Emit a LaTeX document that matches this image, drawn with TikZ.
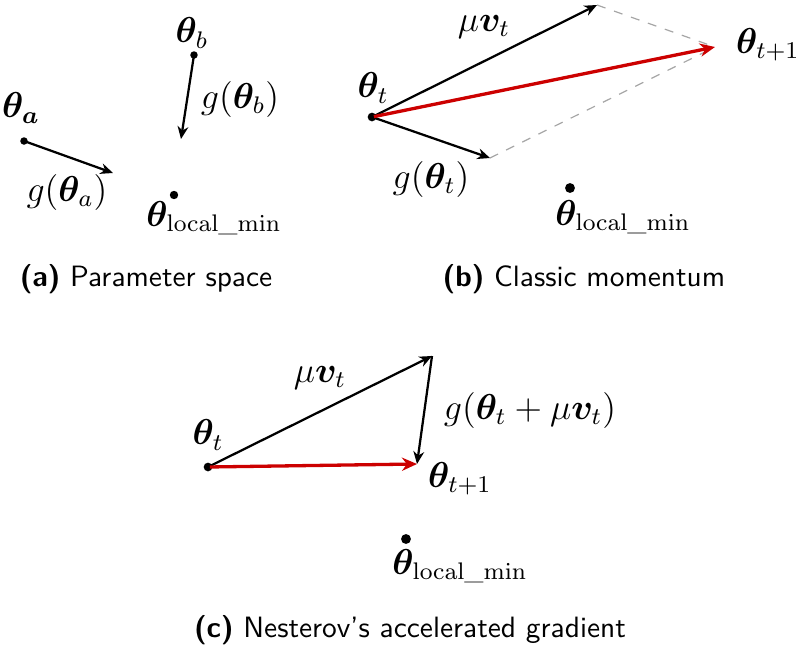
\documentclass[tikz,border=0pt]{standalone}
\usepackage{amsmath,bm}
\usetikzlibrary{arrows.meta}
\definecolor{stepred}{RGB}{204,0,0}
\begin{document}
\begin{tikzpicture}[x=0.33333pt,y=-0.33333pt,
  dot/.style={circle,fill=black,inner sep=0pt,minimum size=2.5pt},
  lbl/.style={inner sep=0pt,font=\fontsize{12}{14}\selectfont},
  captext/.style={inner sep=0pt,font=\fontsize{9.8}{12}\selectfont\sffamily},
  blk/.style={-{Stealth[length=4.2pt,width=3.6pt]},line width=0.75pt,shorten <=-1pt},
  redarr/.style={-{Stealth[length=5pt,width=4.4pt]},stepred,line width=1.1pt,shorten <=-1pt},
  guide/.style={gray!70,dashed,thin}]
\useasboundingbox (0,0) rectangle (800,647);
% ---------- (a) ----------
\node[dot] (pa) at (24,141) {};
\coordinate (pa1) at (113,173);
\node[dot] (pb) at (194,55) {};
\coordinate (pb1) at (181,139);
\node[dot,minimum size=2.8pt] (pmin) at (174,195) {};
\draw[blk] (pa) -- (pa1);
\draw[blk] (pb) -- (pb1);
\node[lbl] (la) at (21,108) {$\boldsymbol{\theta_a}$};
\node[lbl] (lga) at (67,192) {$g(\boldsymbol{\theta}_a)$};
\node[lbl] (lb) at (192,33) {$\boldsymbol{\theta}_b$};
\node[lbl] (lgb) at (240,99) {$g(\boldsymbol{\theta}_b)$};
\node[lbl] (lmin) at (214,218) {$\boldsymbol{\theta}_{\mathrm{local\_min}}$};
\node[captext] (capa) at (146,279) {\textbf{(a)} Parameter space};
% ---------- (b) ----------
\node[dot,minimum size=2.9pt] (bt) at (372,117) {};
\coordinate (bv) at (597,5);
\coordinate (bg) at (490,158);
\coordinate (bn) at (715,47);
\draw[guide] (bv) -- (bn);
\draw[guide] (bg) -- (bn);
\draw[blk] (bt) -- (bv);
\draw[blk] (bt) -- (bg);
\draw[redarr] (bt) -- (bn);
\node[dot,minimum size=3.3pt] (bmin) at (570,188) {};
\node[lbl] (lbt) at (373,88) {$\boldsymbol{\theta}_t$};
\node[lbl] (lbv) at (484,27) {$\mu\boldsymbol{v}_t$};
\node[lbl] (lbg) at (431,179) {$g(\boldsymbol{\theta}_t)$};
\node[lbl] (lbn) at (768,45) {$\boldsymbol{\theta}_{t+1}$};
\node[lbl] (lbmin) at (623,217) {$\boldsymbol{\theta}_{\mathrm{local\_min}}$};
\node[captext] (capb) at (584,279) {\textbf{(b)} Classic momentum};
% ---------- (c) ----------
\node[dot,minimum size=2.9pt] (ct) at (208,467) {};
\coordinate (cv) at (432,356);
\coordinate (cn) at (417,464);
\draw[blk] (ct) -- (cv);
\draw[blk,shorten <=0pt] (cv) -- (cn);
\draw[redarr] (ct) -- (cn);
\node[dot,minimum size=3.3pt] (cmin) at (406,539) {};
\node[lbl] (lct) at (208,435) {$\boldsymbol{\theta}_t$};
\node[lbl] (lcv) at (320,378) {$\mu\boldsymbol{v}_t$};
\node[lbl] (lcg) at (530,410) {$g(\boldsymbol{\theta}_t+\mu\boldsymbol{v}_t)$};
\node[lbl] (lcn) at (460,479) {$\boldsymbol{\theta}_{t+1}$};
\node[lbl] (lcmin) at (460,566) {$\boldsymbol{\theta}_{\mathrm{local\_min}}$};
\node[captext] (capc) at (410,630) {\textbf{(c)} Nesterov's accelerated gradient};
\end{tikzpicture}
\end{document}
